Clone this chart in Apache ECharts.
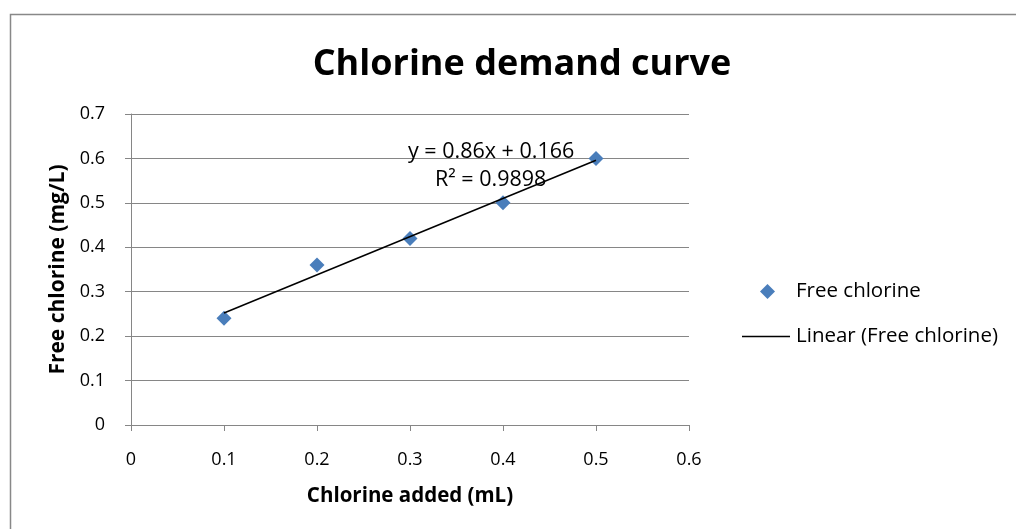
<!DOCTYPE html>
<html>
<head>
<meta charset="utf-8">
<script src="https://cdn.jsdelivr.net/npm/echarts@6/dist/echarts.min.js"></script>
<style>html,body{margin:0;padding:0;background:#fff}#c{width:1016px;height:529px}</style>
</head>
<body>
<div id="c"></div>
<script>
const chlorineAdded = [0.1, 0.2, 0.3, 0.4, 0.5];
const freeChlorine = [0.24, 0.36, 0.42, 0.50, 0.60];
const trendX = [0.1, 0.5];
const trendY = [0.252, 0.596];
const equationText = 'y = 0.86x + 0.166';
const r2Text = 'R² = 0.9898';
const FONT = 'Open Sans';

const chart = echarts.init(document.getElementById('c'));
chart.setOption({
  animation: false,
  backgroundColor: '#fff',
  title: {
    text: 'Chlorine demand curve',
    left: 517, top: 42, textAlign: 'center',
    textStyle: {fontFamily: FONT, fontWeight: 'bold', fontSize: 36, color: '#000'}
  },
  grid: {left: 131, right: 327, top: 114, bottom: 104},
  xAxis: {
    type: 'value', min: 0, max: 0.6, interval: 0.1,
    name: 'Chlorine added (mL)', nameLocation: 'middle', nameGap: 61,
    nameTextStyle: {fontFamily: FONT, fontWeight: 'bold', fontSize: 20.5, color: '#000'},
    axisLine: {show: true, lineStyle: {color: '#868686', width: 1}},
    axisTick: {show: true, length: 6, lineStyle: {color: '#868686'}},
    axisLabel: {fontFamily: FONT, fontSize: 18, color: '#000', margin: 26},
    splitLine: {show: false}
  },
  yAxis: {
    type: 'value', min: 0, max: 0.7, interval: 0.1,
    name: 'Free chlorine (mg/L)', nameLocation: 'middle', nameGap: 59,
    nameTextStyle: {fontFamily: FONT, fontWeight: 'bold', fontSize: 21, color: '#000'},
    axisLine: {show: true, lineStyle: {color: '#868686', width: 1}},
    axisTick: {show: true, length: 6, lineStyle: {color: '#868686'}},
    axisLabel: {fontFamily: FONT, fontSize: 18, color: '#000', margin: 26},
    splitLine: {show: true, lineStyle: {color: '#868686', width: 1}}
  },
  legend: [
    {
      data: [{name: 'Free chlorine', icon: 'diamond'}],
      left: 760, top: 281, padding: 0, itemWidth: 15, itemHeight: 15,
      textStyle: {fontFamily: FONT, fontSize: 20.5, color: '#000', padding: [0, 0, 0, 16]}
    },
    {
      data: [{name: 'Linear (Free chlorine)', icon: 'rect'}],
      left: 742, top: 326, padding: 0, itemWidth: 48, itemHeight: 1.5,
      textStyle: {fontFamily: FONT, fontSize: 20.5, color: '#000', padding: [0, 0, 0, 1]}
    }
  ],
  graphic: [
    {type: 'rect', left: 8, top: 12, shape: {width: 1040, height: 560},
     style: {fill: 'none', stroke: '#888', lineWidth: 1.5}, silent: true, z: -1},
    {type: 'text', x: 408, y: 152, style: {text: equationText, fontFamily: FONT, fontSize: 21.5, fill: '#000', verticalAlign: 'middle'}, z: 10},
    {type: 'text', x: 435, y: 180, style: {text: r2Text, fontFamily: FONT, fontSize: 21.5, fill: '#000', verticalAlign: 'middle'}, z: 10}
  ],
  series: [
    {
      name: 'Free chlorine', type: 'scatter', symbol: 'diamond', symbolSize: 15,
      itemStyle: {color: '#4A7EBB', opacity: 1},
      data: chlorineAdded.map((x, i) => [x, freeChlorine[i]])
    },
    {
      name: 'Linear (Free chlorine)', type: 'line', symbol: 'none', showSymbol: false,
      lineStyle: {color: '#000', width: 1.5}, itemStyle: {color: '#000'},
      data: trendX.map((x, i) => [x, trendY[i]]), z: 3
    }
  ]
});
</script>
</body>
</html>
